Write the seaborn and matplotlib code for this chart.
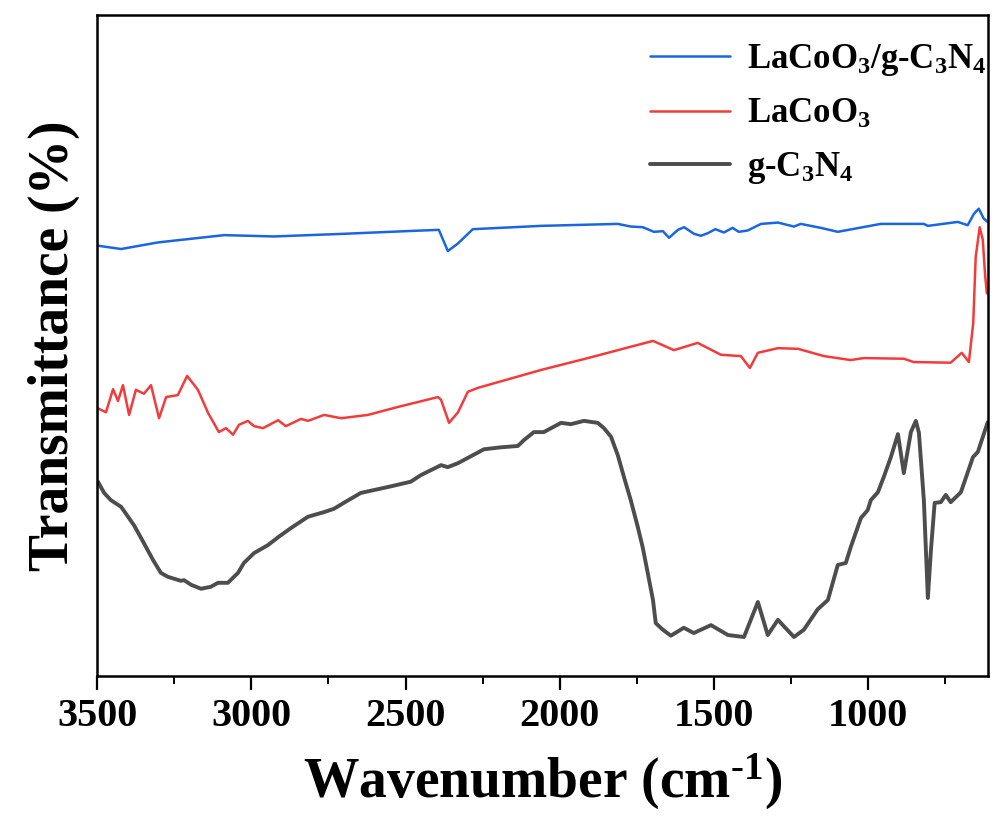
import matplotlib
matplotlib.use("Agg")
import matplotlib.pyplot as plt
from matplotlib.ticker import MultipleLocator
import pandas as pd
import seaborn as sns

# FTIR spectra (wavenumber in cm^-1, transmittance in offset arbitrary units)
wn_composite = [3497, 3422, 3302, 3088, 2926, 2700, 2500, 2392, 2363, 2331, 2282,
                2061, 1812, 1770, 1731, 1695, 1666, 1646, 1617, 1597, 1565, 1543,
                1520, 1496, 1468, 1440, 1420, 1391, 1348, 1293, 1241, 1219, 1154,
                1099, 960, 820, 807, 710, 678, 658, 642, 626, 613]
t_composite = [65.1, 64.6, 65.6, 66.7, 66.5, 66.9, 67.3, 67.5, 64.3, 65.4, 67.6,
               68.1, 68.4, 68.0, 67.9, 67.2, 67.3, 66.3, 67.5, 67.9, 66.9, 66.6,
               67.0, 67.6, 67.1, 67.8, 67.2, 67.4, 68.4, 68.6, 68.0, 68.4, 67.8,
               67.2, 68.4, 68.4, 68.1, 68.7, 68.2, 69.9, 70.7, 69.2, 68.7]

wn_lacoo3 = [3497, 3471, 3448, 3432, 3416, 3396, 3374, 3348, 3325, 3299, 3276,
             3238, 3208, 3173, 3140, 3105, 3082, 3059, 3040, 3011, 2991, 2962,
             2913, 2888, 2839, 2816, 2764, 2709, 2622, 2525, 2395, 2385, 2359,
             2330, 2298, 2265, 2061, 1909, 1698, 1630, 1553, 1478, 1413, 1384,
             1358, 1293, 1228, 1144, 1057, 1015, 885, 853, 733, 697, 674, 660,
             652, 639, 629, 622, 616, 612]
t_lacoo3 = [40.5, 39.9, 43.4, 41.6, 44.0, 39.5, 43.3, 42.7, 44.0, 39.0, 42.2,
            42.5, 45.4, 43.3, 39.8, 36.9, 37.5, 36.5, 38.0, 38.6, 37.8, 37.5,
            38.7, 37.8, 38.9, 38.6, 39.5, 39.0, 39.5, 40.7, 42.2, 41.8, 38.3,
            39.9, 43.0, 43.6, 46.3, 48.1, 50.7, 49.3, 50.4, 48.6, 48.4, 46.6,
            48.9, 49.6, 49.5, 48.4, 47.8, 48.1, 48.0, 47.5, 47.4, 48.9, 47.5, 53.4,
            63.4, 67.9, 66.0, 61.0, 57.9, 57.9]

wn_gcn = [3497, 3477, 3455, 3422, 3380, 3348, 3319, 3293, 3270, 3228, 3218, 3195,
          3163, 3131, 3108, 3076, 3043, 3024, 2991, 2946, 2913, 2871, 2816, 2764,
          2732, 2700, 2645, 2547, 2483, 2450, 2385, 2363, 2330, 2246, 2191, 2136,
          2116, 2084, 2052, 1996, 1964, 1922, 1877, 1857, 1834, 1812, 1792, 1770,
          1747, 1731, 1715, 1698, 1689, 1666, 1640, 1598, 1566, 1510, 1455, 1403,
          1358, 1326, 1293, 1241, 1209, 1164, 1131, 1099, 1073, 1057, 1024, 1002,
          992, 969, 950, 927, 904, 885, 862, 846, 836, 820, 807, 797, 785, 765,
          749, 733, 700, 661, 645, 613]
t_gcn = [29.4, 27.7, 26.6, 25.6, 22.8, 20.1, 17.6, 15.6, 15.0, 14.4, 14.5, 13.8,
         13.2, 13.5, 14.1, 14.1, 15.6, 17.1, 18.6, 19.8, 21.0, 22.4, 24.1, 24.8,
         25.3, 26.2, 27.7, 28.7, 29.4, 30.4, 31.9, 31.6, 32.2, 34.3, 34.6, 34.8,
         35.7, 36.9, 36.9, 38.3, 38.1, 38.6, 38.3, 37.5, 36.2, 33.4, 30.1, 26.6,
         22.5, 19.4, 15.6, 11.5, 8.0, 7.0, 6.1, 7.3, 6.5, 7.7, 6.2, 5.9,
         11.2, 6.2, 8.5, 5.9, 7.0, 10.1, 11.5, 16.8, 17.1, 19.5, 23.9, 25.1,
         26.6, 27.8, 30.1, 33.1, 36.6, 30.7, 36.9, 38.6, 36.8, 26.6, 11.8, 19.1,
         26.2, 26.3, 27.4, 26.3, 27.8, 33.1, 33.9, 38.4]

labels = [r"LaCoO$_3$/g-C$_3$N$_4$", r"LaCoO$_3$", r"g-C$_3$N$_4$"]
colors = ["#1a66e0", "#f23c3c", "#4d4d4d"]
widths = [1.8, 1.8, 2.8]
x_ticks = [3500, 3000, 2500, 2000, 1500, 1000]

sns.set_theme(style="white")
plt.rcParams.update({
    "font.family": ["Liberation Serif", "DejaVu Serif"],
    "font.weight": "bold",
    "text.color": "black",
    "axes.labelcolor": "black",
    "xtick.color": "black",
    "ytick.color": "black",
    "mathtext.fontset": "custom",
    "mathtext.rm": "Liberation Serif:bold",
    "mathtext.bf": "Liberation Serif:bold",
    "mathtext.it": "Liberation Serif:bold",
    "mathtext.default": "bf",
})

fig = plt.figure(figsize=(9.92, 8.21), dpi=100)
ax = fig.add_axes([0.0978, 0.1766, 0.8982, 0.8051])

series = [(wn_composite, t_composite), (wn_lacoo3, t_lacoo3), (wn_gcn, t_gcn)]
for (wn, t), lab, c, lw in zip(series, labels, colors, widths):
    df = pd.DataFrame({"wn": wn, "t": t})
    sns.lineplot(data=df, x="wn", y="t", ax=ax, color=c, linewidth=lw,
                 label=lab, estimator=None, sort=True)

ax.set_xlim(3500, 612)
ax.set_ylim(0, 100)
ax.set_xticks(x_ticks)
ax.xaxis.set_minor_locator(MultipleLocator(250))
ax.set_yticks([])
ax.tick_params(axis="x", which="major", direction="out", length=10, width=1.6,
               labelsize=29, pad=6, bottom=True, top=False)
ax.tick_params(axis="x", which="minor", direction="out", length=6, width=1.4,
               bottom=True, top=False)
for lbl in ax.get_xticklabels():
    lbl.set_fontweight("bold")
for sp in ax.spines.values():
    sp.set_linewidth(1.8)
    sp.set_color("black")

ax.set_xlabel(r"Wavenumber (cm$^{\text{-}1}$)", fontsize=40, fontweight="bold",
              labelpad=12)
ax.set_ylabel("Transmittance (%)", fontsize=40, fontweight="bold", labelpad=12)

leg = ax.legend(loc="upper right", bbox_to_anchor=(1.022, 0.99), frameon=False,
                fontsize=25, handlelength=2.3, handletextpad=0.5,
                labelspacing=0.55, borderaxespad=0.2)
for txt in leg.get_texts():
    txt.set_fontweight("bold")

fig.savefig("out.png", dpi=100)
